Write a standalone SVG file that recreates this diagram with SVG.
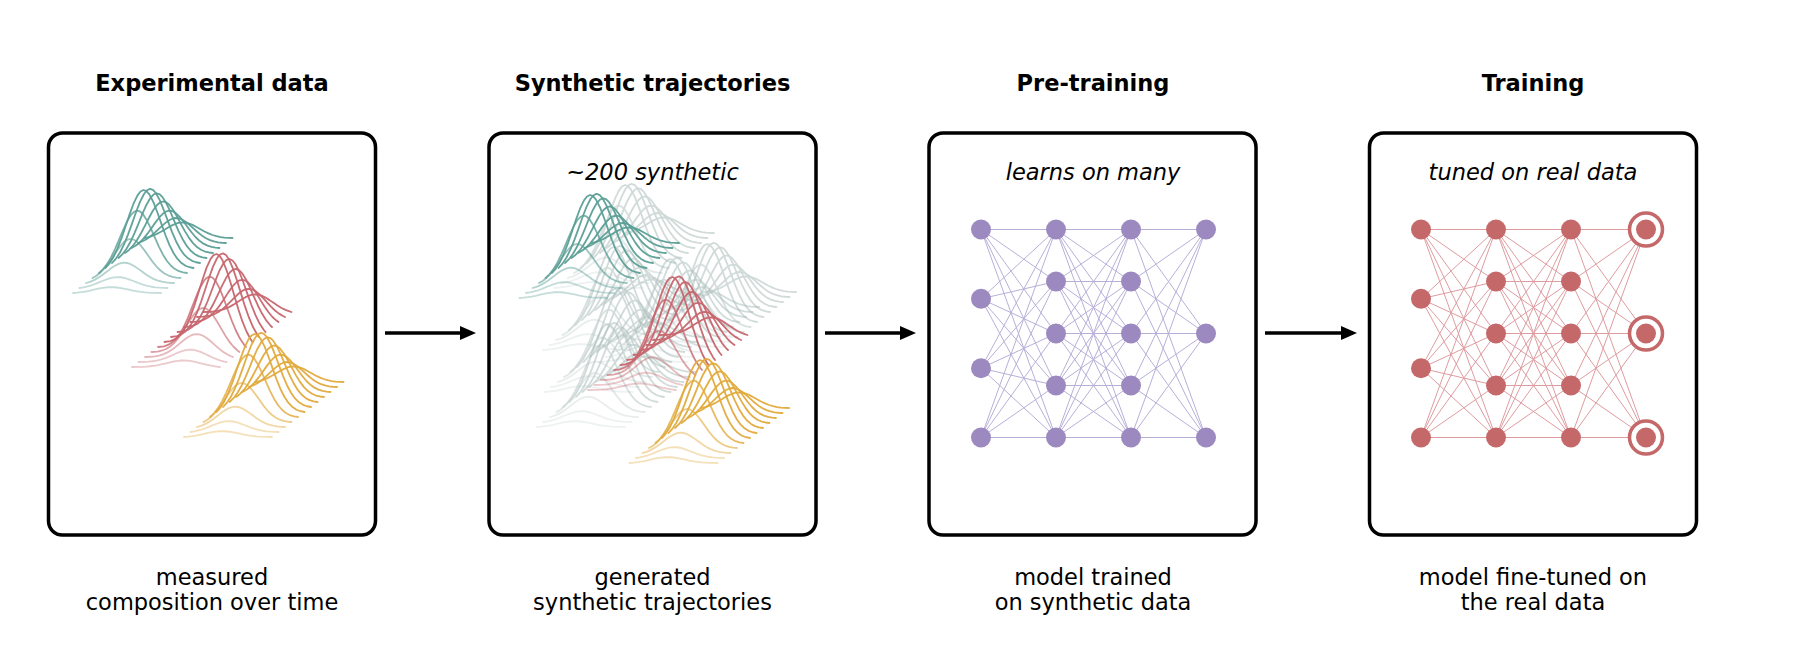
<svg xmlns="http://www.w3.org/2000/svg" xmlns:xlink="http://www.w3.org/1999/xlink" width="1800" height="668" viewBox="0 0 1800 668">
<style>
text{font-family:"DejaVu Sans","Liberation Sans",sans-serif;fill:#000;text-anchor:middle}
.title{font-size:22.5px;font-weight:bold}
.sub{font-size:22.5px;font-style:italic}
.cap{font-size:22.5px}
.box{fill:#fff;stroke:#000;stroke-width:3.5}
.curve{fill:none;stroke-width:1.8;stroke-linejoin:round;stroke-linecap:round}
.teal{stroke:#5b9f96}
.red{stroke:#c8666e}
.gold{stroke:#e2aa3c}
.grey{stroke:#a9bdba;opacity:.55}
.edgeP{fill:none;stroke:#b8afd8;stroke-width:1}
.edgeR{fill:none;stroke:#de9ca0;stroke-width:1}
.nodeP{fill:#9b89bf}
.nodeR{fill:#c4686a}
.ring{fill:#fff;stroke:#c4686a;stroke-width:3.5}
.arrow{fill:none;stroke:#000;stroke-width:3.5}
</style>
<defs>
<marker id="ah" viewBox="0 0 16 16" refX="6" refY="8" markerWidth="16" markerHeight="16" markerUnits="userSpaceOnUse" orient="auto">
<path d="M0,1 L16,8 L0,15 z" fill="#000"/>
</marker>
<path id="g1" vector-effect="non-scaling-stroke" d="M0,0 L4,-5.9 L8,-14.2 L12,-25.1 L16,-38.3 L20,-53.2 L24,-68.5 L28,-82.4 L32,-93.1 L35,-98.1 L38,-100 L41,-98.6 L44,-94.1 L48,-84.1 L52,-70.8 L56,-56.2 L60,-42 L64,-29.4 L68,-19.2 L72,-11.6 L76,-6.3 L80,-2.9 L84,-1 L88,0"/>
<path id="g2" vector-effect="non-scaling-stroke" d="M0,0 L6,-1 L10,-2.9 L14,-6.2 L18,-11.4 L22,-19 L26,-29.2 L30,-41.8 L34,-56.2 L38,-70.8 L42,-84.2 L46,-94.2 L49,-98.7 L52,-100 L55,-98 L58,-92.8 L62,-81.8 L66,-67.5 L70,-51.9 L74,-36.6 L78,-23.1 L82,-11.9 L86,-3.4 L88,0"/>
<g id="rA">
<use href="#g1" transform="translate(0,0) scale(1,.0585)" opacity=".35"/>
<use href="#g1" transform="translate(6.5,-5) scale(1,.109)" opacity=".35"/>
<use href="#g1" transform="translate(13,-10) scale(1,.203)" opacity=".45"/>
<use href="#g1" transform="translate(19.5,-15) scale(1,.39)" opacity=".6"/>
<use href="#g1" transform="translate(26,-20) scale(1,.624)" opacity=".8"/>
<use href="#g1" transform="translate(32.5,-25) scale(1,.78)" opacity=".95"/>
<use href="#g1" transform="translate(39,-30) scale(1,.741)" opacity=".95"/>
<use href="#g1" transform="translate(45.5,-35) scale(1,.647)" opacity=".95"/>
<use href="#g1" transform="translate(52,-40) scale(1,.515)" opacity=".95"/>
<use href="#g1" transform="translate(58.5,-45) scale(1,.374)" opacity=".95"/>
<use href="#g1" transform="translate(65,-50) scale(1,.25)" opacity=".95"/>
<use href="#g1" transform="translate(71.5,-55) scale(1,.156)" opacity=".95"/>
</g>
<g id="rB">
<use href="#g2" transform="translate(0,0) scale(1,.066)" opacity=".35"/>
<use href="#g2" transform="translate(6.5,-5) scale(1,.123)" opacity=".35"/>
<use href="#g2" transform="translate(13,-10) scale(1,.229)" opacity=".45"/>
<use href="#g2" transform="translate(19.5,-15) scale(1,.44)" opacity=".6"/>
<use href="#g2" transform="translate(26,-20) scale(1,.704)" opacity=".8"/>
<use href="#g2" transform="translate(32.5,-25) scale(1,.88)" opacity=".95"/>
<use href="#g2" transform="translate(39,-30) scale(1,.836)" opacity=".95"/>
<use href="#g2" transform="translate(45.5,-35) scale(1,.73)" opacity=".95"/>
<use href="#g2" transform="translate(52,-40) scale(1,.581)" opacity=".95"/>
<use href="#g2" transform="translate(58.5,-45) scale(1,.422)" opacity=".95"/>
<use href="#g2" transform="translate(65,-50) scale(1,.282)" opacity=".95"/>
<use href="#g2" transform="translate(71.5,-55) scale(1,.176)" opacity=".95"/>
</g>
<path id="edges" d="M981 229.5L1056 229.5M981 229.5L1056 281.5M981 229.5L1056 333.5M981 229.5L1056 385.5M981 229.5L1056 437.5M981 298.8L1056 229.5M981 298.8L1056 281.5M981 298.8L1056 333.5M981 298.8L1056 385.5M981 298.8L1056 437.5M981 368.2L1056 229.5M981 368.2L1056 281.5M981 368.2L1056 333.5M981 368.2L1056 385.5M981 368.2L1056 437.5M981 437.5L1056 229.5M981 437.5L1056 281.5M981 437.5L1056 333.5M981 437.5L1056 385.5M981 437.5L1056 437.5M1056 229.5L1131 229.5M1056 229.5L1131 281.5M1056 229.5L1131 333.5M1056 229.5L1131 385.5M1056 229.5L1131 437.5M1056 281.5L1131 229.5M1056 281.5L1131 281.5M1056 281.5L1131 333.5M1056 281.5L1131 385.5M1056 281.5L1131 437.5M1056 333.5L1131 229.5M1056 333.5L1131 281.5M1056 333.5L1131 333.5M1056 333.5L1131 385.5M1056 333.5L1131 437.5M1056 385.5L1131 229.5M1056 385.5L1131 281.5M1056 385.5L1131 333.5M1056 385.5L1131 385.5M1056 385.5L1131 437.5M1056 437.5L1131 229.5M1056 437.5L1131 281.5M1056 437.5L1131 333.5M1056 437.5L1131 385.5M1056 437.5L1131 437.5M1131 229.5L1206 229.5M1131 229.5L1206 333.5M1131 229.5L1206 437.5M1131 281.5L1206 229.5M1131 281.5L1206 333.5M1131 281.5L1206 437.5M1131 333.5L1206 229.5M1131 333.5L1206 333.5M1131 333.5L1206 437.5M1131 385.5L1206 229.5M1131 385.5L1206 333.5M1131 385.5L1206 437.5M1131 437.5L1206 229.5M1131 437.5L1206 333.5M1131 437.5L1206 437.5"/>
<g id="nodes">
<circle cx="981" cy="229.5" r="10"/><circle cx="981" cy="298.8" r="10"/><circle cx="981" cy="368.2" r="10"/><circle cx="981" cy="437.5" r="10"/>
<circle cx="1056" cy="229.5" r="10"/><circle cx="1056" cy="281.5" r="10"/><circle cx="1056" cy="333.5" r="10"/><circle cx="1056" cy="385.5" r="10"/><circle cx="1056" cy="437.5" r="10"/>
<circle cx="1131" cy="229.5" r="10"/><circle cx="1131" cy="281.5" r="10"/><circle cx="1131" cy="333.5" r="10"/><circle cx="1131" cy="385.5" r="10"/><circle cx="1131" cy="437.5" r="10"/>
</g>
<g id="outs">
<circle cx="1206" cy="229.5" r="10"/><circle cx="1206" cy="333.5" r="10"/><circle cx="1206" cy="437.5" r="10"/>
</g>
</defs>
<rect width="1800" height="668" fill="#fff"/>

<g id="experimental-data">
<text class="title" x="212" y="91">Experimental data</text>
<rect class="box" x="48.5" y="133" width="327" height="402" rx="14"/>
<g class="curve">
<use href="#rA" class="teal" transform="translate(73,293)"/>
<use href="#rB" class="red" transform="translate(132,367)"/>
<use href="#rA" class="gold" transform="translate(184,437)"/>
</g>
<text class="cap" x="212" y="585">measured</text>
<text class="cap" x="212" y="610">composition over time</text>
</g>

<g id="synthetic-trajectories">
<text class="title" x="652.5" y="91">Synthetic trajectories</text>
<rect class="box" x="489" y="133" width="327" height="402" rx="14"/>
<text class="sub" x="652.5" y="180">~200 synthetic</text>
<g class="curve">
<use href="#rA" class="grey" transform="translate(554.5,288)"/>
<use href="#rA" class="grey" transform="translate(543,350)"/>
<use href="#rA" class="grey" transform="translate(599.5,362)"/>
<use href="#rA" class="grey" transform="translate(636.5,347)"/>
<use href="#rA" class="grey" transform="translate(544.5,392)"/>
<use href="#rA" class="grey" transform="translate(537,427)"/>
<use href="#rA" class="teal" transform="translate(519.5,298)"/>
<use href="#rB" class="red" transform="translate(588,390)"/>
<use href="#rA" class="gold" transform="translate(629.5,463)"/>
</g>
<text class="cap" x="652.5" y="585">generated</text>
<text class="cap" x="652.5" y="610">synthetic trajectories</text>
</g>

<g id="pre-training">
<text class="title" x="1093" y="91">Pre-training</text>
<rect class="box" x="929" y="133" width="327" height="402" rx="14"/>
<text class="sub" x="1093" y="180">learns on many</text>
<use href="#edges" class="edgeP"/>
<use href="#nodes" class="nodeP"/>
<use href="#outs" class="nodeP"/>
<text class="cap" x="1093" y="585">model trained</text>
<text class="cap" x="1093" y="610">on synthetic data</text>
</g>

<g id="training">
<text class="title" x="1533" y="91">Training</text>
<rect class="box" x="1369.5" y="133" width="327" height="402" rx="14"/>
<text class="sub" x="1533" y="180">tuned on real data</text>
<use href="#edges" class="edgeR" transform="translate(440,0)"/>
<use href="#nodes" class="nodeR" transform="translate(440,0)"/>
<circle class="ring" cx="1646" cy="229.5" r="16.5"/>
<circle class="ring" cx="1646" cy="333.5" r="16.5"/>
<circle class="ring" cx="1646" cy="437.5" r="16.5"/>
<use href="#outs" class="nodeR" transform="translate(440,0)"/>
<text class="cap" x="1533" y="585">model fine-tuned on</text>
<text class="cap" x="1533" y="610">the real data</text>
</g>

<g id="connectors">
<line class="arrow" x1="385" y1="333" x2="466" y2="333" marker-end="url(#ah)"/>
<line class="arrow" x1="825" y1="333" x2="906" y2="333" marker-end="url(#ah)"/>
<line class="arrow" x1="1265" y1="333" x2="1347" y2="333" marker-end="url(#ah)"/>
</g>
</svg>
